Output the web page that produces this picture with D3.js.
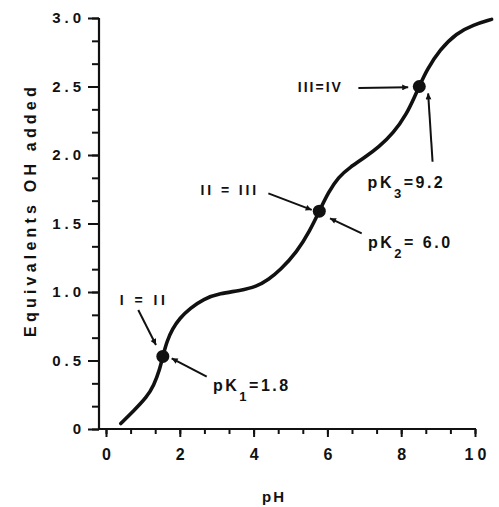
<!DOCTYPE html>
<html>
<head>
<meta charset="utf-8">
<script src="https://cdn.jsdelivr.net/npm/d3@7"></script>
<style>
  body { margin: 0; background: #fff; }
  text { font-family: "Liberation Sans", Arial, sans-serif; font-weight: bold; fill: #111; }
</style>
</head>
<body>
<script>
// titration curve
var phValues = [0.40, 0.74, 1.10, 1.30, 1.45, 1.54, 1.65, 1.80, 2.00, 2.28, 2.64, 3.09, 3.63, 4.08, 4.40, 4.72, 5.17, 5.53, 5.78, 6.03, 6.30, 6.61, 7.00, 7.40, 7.79, 8.15, 8.37, 8.49, 8.69, 9.05, 9.50, 9.95, 10.45];
var eqValues = [0.04, 0.13, 0.23, 0.32, 0.43, 0.53, 0.64, 0.73, 0.81, 0.88, 0.95, 0.99, 1.01, 1.04, 1.09, 1.16, 1.29, 1.45, 1.59, 1.73, 1.84, 1.91, 1.98, 2.06, 2.16, 2.30, 2.43, 2.50, 2.62, 2.77, 2.89, 2.95, 2.99];

// midpoints marked with dots
var dotPh = [1.54, 5.78, 8.49];
var dotEq = [0.53, 1.59, 2.50];

var xTicks = [0, 2, 4, 6, 8, 10];
var xTickLabels = ["0", "2", "4", "6", "8", "10"];
var yTicks = [0, 0.5, 1, 1.5, 2, 2.5, 3];
var yTickLabels = ["0", "0.5", "1.0", "1.5", "2.0", "2.5", "3.0"];

// annotations: text anchor, arrow tail, arrow head (data units)
var noteText = ["I = II", "II = III", "III=IV"];
var noteAt   = [[1.03, 0.905], [4.15, 1.708], [6.42, 2.46]];
var pkSub    = ["1", "2", "3"];
var pkValue  = ["1.8", " 6.0", "9.2"];
var pkAt     = [[2.90, 0.277], [7.10, 1.323], [7.09, 1.757]];
var arrowFrom = [[0.875, 0.869], [2.73, 0.382], [4.40, 1.72], [6.93, 1.428], [6.84, 2.489], [8.85, 1.951]];
var arrowTo   = [[1.355, 0.613], [1.78, 0.516], [5.575, 1.599], [6.07, 1.538], [8.19, 2.494], [8.73, 2.45]];

var width = 499, height = 507;
var axisX = 99;

var svg = d3.select("body").append("svg")
    .attr("width", width)
    .attr("height", height);

var x = d3.scaleLinear().domain([0, 10]).range([106, 475]);
var y = d3.scaleLinear().domain([0, 3]).range([429, 18]);

svg.append("defs").append("marker")
    .attr("id", "head")
    .attr("viewBox", "0 0 10 10")
    .attr("refX", 10).attr("refY", 5)
    .attr("markerWidth", 10).attr("markerHeight", 6)
    .attr("markerUnits", "userSpaceOnUse")
    .attr("orient", "auto")
  .append("path")
    .attr("d", "M0,0L10,5L0,10Z")
    .attr("fill", "#111");

// y axis: minor then major ticks
var yMinor = d3.range(0, 18.5).map(function(i) { return i / 6; });
svg.append("g")
    .attr("transform", "translate(" + axisX + ",0)")
    .call(d3.axisLeft(y).tickValues(yMinor).tickSize(7).tickFormat(""))
    .call(function(g) { g.select(".domain").remove(); });

var yAxis = svg.append("g")
    .attr("transform", "translate(" + axisX + ",0)")
    .call(d3.axisLeft(y).tickValues(yTicks).tickSize(11).tickPadding(3)
      .tickFormat(function(d, i) { return yTickLabels[i]; }));
yAxis.select(".domain").remove();
yAxis.selectAll("text")
    .style("font-size", "15px").style("letter-spacing", "4px")
    .style("font-family", "'Liberation Sans', Arial, sans-serif").style("font-weight", "bold");

// x axis
var xMinor = d3.range(0, 15.5).map(function(i) { return i * 2 / 3; });
svg.append("g")
    .attr("transform", "translate(0," + y(0) + ")")
    .call(d3.axisBottom(x).tickValues(xMinor).tickSize(5).tickFormat(""))
    .call(function(g) { g.select(".domain").remove(); });

var xAxis = svg.append("g")
    .attr("transform", "translate(0," + y(0) + ")")
    .call(d3.axisBottom(x).tickValues(xTicks).tickSize(8).tickPadding(12)
      .tickFormat(function(d, i) { return xTickLabels[i]; }));
xAxis.select(".domain").remove();
xAxis.selectAll("text")
    .attr("dx", 2)
    .style("font-size", "16px").style("letter-spacing", "4px")
    .style("font-family", "'Liberation Sans', Arial, sans-serif").style("font-weight", "bold");

svg.selectAll(".tick line").attr("stroke", "#111").attr("stroke-width", 2);

// axis lines
svg.append("line")
    .attr("x1", axisX).attr("x2", axisX)
    .attr("y1", y(3)).attr("y2", y(0) + 1)
    .attr("stroke", "#111").attr("stroke-width", 2.2);
svg.append("line")
    .attr("x1", axisX - 1).attr("x2", x(10) + 1)
    .attr("y1", y(0)).attr("y2", y(0))
    .attr("stroke", "#111").attr("stroke-width", 2.2);

// axis titles
svg.append("text")
    .attr("transform", "translate(36,210) rotate(-90)")
    .attr("text-anchor", "middle")
    .style("font-size", "16px").style("letter-spacing", "4.2px")
    .text("Equivalents OH  added");

svg.append("text")
    .attr("x", 274).attr("y", 502)
    .attr("text-anchor", "middle")
    .style("font-size", "15px").style("letter-spacing", "2px")
    .text("pH");

// curve
var pts = phValues.map(function(d, i) { return [d, eqValues[i]]; });
var line = d3.line()
    .x(function(d) { return x(d[0]); })
    .y(function(d) { return y(d[1]); })
    .curve(d3.curveBasis);

svg.append("path")
    .datum(pts)
    .attr("d", line)
    .attr("fill", "none")
    .attr("stroke", "#111")
    .attr("stroke-width", 3.6)
    .attr("stroke-linecap", "round");

svg.selectAll(".dot")
    .data(dotPh)
  .enter().append("circle")
    .attr("class", "dot")
    .attr("cx", function(d) { return x(d); })
    .attr("cy", function(d, i) { return y(dotEq[i]); })
    .attr("r", 6.5)
    .attr("fill", "#111");

// arrows
svg.selectAll(".arrow")
    .data(arrowFrom)
  .enter().append("line")
    .attr("class", "arrow")
    .attr("x1", function(d) { return x(d[0]); })
    .attr("y1", function(d) { return y(d[1]); })
    .attr("x2", function(d, i) { return x(arrowTo[i][0]); })
    .attr("y2", function(d, i) { return y(arrowTo[i][1]); })
    .attr("stroke", "#111")
    .attr("stroke-width", 2)
    .attr("marker-end", "url(#head)");

// equilibrium labels
var anchors = ["middle", "end", "end"];
var spacing = [3.5, 2.9, 2];
svg.selectAll(".note")
    .data(noteText)
  .enter().append("text")
    .attr("class", "note")
    .attr("x", function(d, i) { return x(noteAt[i][0]); })
    .attr("y", function(d, i) { return y(noteAt[i][1]); })
    .attr("text-anchor", function(d, i) { return anchors[i]; })
    .style("font-size", "14px")
    .style("letter-spacing", function(d, i) { return spacing[i] + "px"; })
    .text(function(d) { return d; });

// pK labels with subscripts
var pk = svg.selectAll(".pk")
    .data(pkSub)
  .enter().append("text")
    .attr("class", "pk")
    .attr("x", function(d, i) { return x(pkAt[i][0]); })
    .attr("y", function(d, i) { return y(pkAt[i][1]); })
    .style("font-size", "16px")
    .style("letter-spacing", "2.5px");
pk.append("tspan").text("pK");
pk.append("tspan")
    .attr("dy", 10)
    .style("font-size", "13px")
    .text(function(d) { return d; });
pk.append("tspan")
    .attr("dy", -10)
    .text(function(d, i) { return "=" + pkValue[i]; });
</script>
</body>
</html>
